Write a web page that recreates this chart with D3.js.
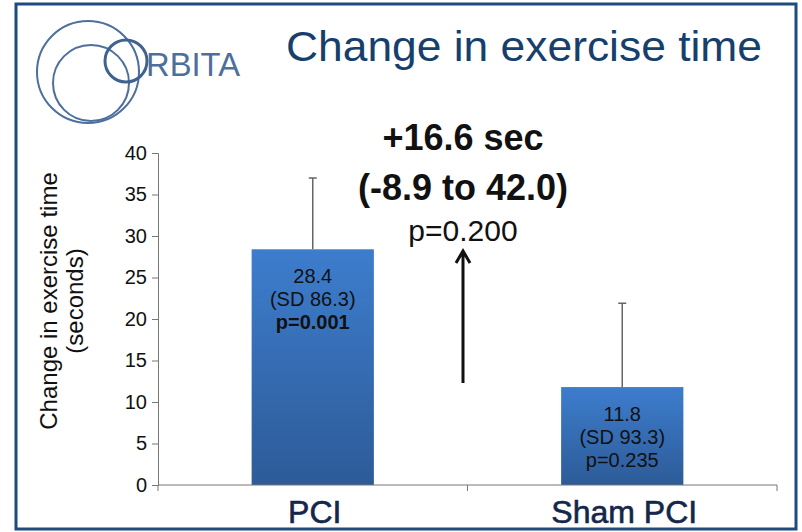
<!DOCTYPE html>
<html>
<head>
<meta charset="utf-8">
<script src="https://cdn.jsdelivr.net/npm/d3@7"></script>
<style>
  body { margin: 0; background: #fff; }
  svg { display: block; }
  text { font-family: Arial, "Liberation Sans", sans-serif; }
</style>
</head>
<body>
<svg id="chart" width="802" height="532"></svg>
<script>
// data
var categories = ["PCI", "Sham PCI"];
var means = [28.4, 11.8];
var errTops = [37.0, 21.9];
var sdLabels = ["(SD 86.3)", "(SD 93.3)"];
var pLabels = ["p=0.001", "p=0.235"];
var pBold = [true, false];
var yTicks = [0, 5, 10, 15, 20, 25, 30, 35, 40];
var diffLines = ["+16.6 sec", "(-8.9 to 42.0)", "p=0.200"];

var svg = d3.select("#chart");

// frame
svg.append("rect")
    .attr("x", 16).attr("y", 4)
    .attr("width", 780).attr("height", 525)
    .attr("fill", "none")
    .attr("stroke", "#1d4a80")
    .attr("stroke-width", 3);

// logo
var logo = svg.append("g").attr("fill", "none").attr("stroke", "#4d6f9c");
logo.append("circle").attr("cx", 88).attr("cy", 72).attr("r", 51).attr("stroke-width", 2);
logo.append("circle").attr("cx", 91).attr("cy", 83).attr("r", 38).attr("stroke-width", 2);
logo.append("circle").attr("cx", 126).attr("cy", 61).attr("r", 21).attr("stroke-width", 3).attr("stroke", "#3f6290");
svg.append("text")
    .attr("x", 146).attr("y", 76)
    .attr("font-size", 34)
    .attr("fill", "#4d6f9c")
    .attr("textLength", 94)
    .attr("lengthAdjust", "spacingAndGlyphs")
    .text("RBITA");

// title
svg.append("text")
    .attr("x", 286).attr("y", 61)
    .attr("font-size", 42)
    .attr("fill", "#173f6d")
    .attr("textLength", 476)
    .attr("lengthAdjust", "spacingAndGlyphs")
    .text("Change in exercise time");

var x = d3.scaleBand().domain(categories).range([158, 777]).padding(0);
var y = d3.scaleLinear().domain([0, 40]).range([485, 153]);
var barW = x.bandwidth() * 0.395;

var defs = svg.append("defs");
var grad = defs.append("linearGradient").attr("id", "barGrad")
    .attr("x1", 0).attr("y1", 0).attr("x2", 0).attr("y2", 1);
grad.append("stop").attr("offset", "0%").attr("stop-color", "#3d7dcd");
grad.append("stop").attr("offset", "100%").attr("stop-color", "#2d5b98");

// y axis
svg.append("g")
    .attr("transform", "translate(158,0)")
    .call(d3.axisLeft(y).tickValues(yTicks).tickSize(6).tickPadding(5))
    .call(function(g) {
      g.selectAll("path,line").attr("stroke", "#777");
      g.selectAll("text").attr("font-size", 20).attr("fill", "#111")
        .attr("font-family", "Arial, 'Liberation Sans', sans-serif");
    });

// y axis title
var yt = svg.append("text")
    .attr("transform", "translate(57,301) rotate(-90)")
    .attr("text-anchor", "middle")
    .attr("font-size", 24)
    .attr("fill", "#111");
yt.append("tspan").attr("x", 0).attr("dy", 0).text("Change in exercise time");
yt.append("tspan").attr("x", 0).attr("dy", 26).text("(seconds)");

// error bars (upper only)
svg.selectAll(".err")
    .data(categories)
    .enter().append("path")
    .attr("class", "err")
    .attr("fill", "none")
    .attr("stroke", "#666")
    .attr("stroke-width", 1.5)
    .attr("d", function(d, i) {
      var cx = x(d) + x.bandwidth() / 2;
      return "M" + cx + "," + y(means[i]) + "V" + y(errTops[i]) +
             "M" + (cx - 4) + "," + y(errTops[i]) + "H" + (cx + 4);
    });

// bars
svg.selectAll(".bar")
    .data(categories)
    .enter().append("rect")
    .attr("class", "bar")
    .attr("x", function(d) { return x(d) + (x.bandwidth() - barW) / 2; })
    .attr("y", function(d, i) { return y(means[i]); })
    .attr("width", barW)
    .attr("height", function(d, i) { return y(0) - y(means[i]); })
    .attr("fill", "url(#barGrad)");

// bar labels
categories.forEach(function(c, i) {
  var cx = x(c) + x.bandwidth() / 2;
  var t = svg.append("text")
      .attr("text-anchor", "middle")
      .attr("font-size", 20)
      .attr("fill", "#111");
  var top = y(means[i]) + 34;
  t.append("tspan").attr("x", cx).attr("y", top).text(means[i].toFixed(1));
  t.append("tspan").attr("x", cx).attr("y", top + 23).text(sdLabels[i]);
  t.append("tspan").attr("x", cx).attr("y", top + 46)
      .attr("font-weight", pBold[i] ? "bold" : "normal").text(pLabels[i]);
});

// x axis
svg.append("line")
    .attr("x1", 158).attr("x2", 777)
    .attr("y1", y(0)).attr("y2", y(0))
    .attr("stroke", "#777");
var bounds = categories.map(function(c) { return x(c); }).concat([x.range()[1]]);
svg.selectAll(".xtick")
    .data(bounds)
    .enter().append("line")
    .attr("x1", function(d) { return d; }).attr("x2", function(d) { return d; })
    .attr("y1", y(0)).attr("y2", y(0) + 6)
    .attr("stroke", "#777");
svg.selectAll(".xlab")
    .data(categories)
    .enter().append("text")
    .attr("x", function(d) { return x(d) + x.bandwidth() / 2 + 2; })
    .attr("y", 523)
    .attr("text-anchor", "middle")
    .attr("font-family", "Arial, 'Liberation Sans', sans-serif")
    .attr("font-size", 32)
    .attr("fill", "#14274a")
    .attr("stroke", "#14274a")
    .attr("stroke-width", 0.6)
    .text(function(d) { return d; });

// difference annotation
var ax = 463;
svg.append("text").attr("x", ax).attr("y", 150).attr("text-anchor", "middle")
    .attr("font-size", 36).attr("font-weight", "bold").attr("fill", "#111").text(diffLines[0]);
svg.append("text").attr("x", ax).attr("y", 200).attr("text-anchor", "middle")
    .attr("font-size", 36).attr("font-weight", "bold").attr("fill", "#111").text(diffLines[1]);
svg.append("text").attr("x", ax).attr("y", 241).attr("text-anchor", "middle")
    .attr("font-size", 30).attr("fill", "#111").text(diffLines[2]);

svg.append("path")
    .attr("d", "M" + ax + "," + y(12.3) + "V" + y(28.2) +
               "M" + (ax - 7) + "," + (y(28.2) + 12) + "L" + ax + "," + y(28.2) + "L" + (ax + 7) + "," + (y(28.2) + 12))
    .attr("fill", "none")
    .attr("stroke", "#111")
    .attr("stroke-width", 3);
</script>
</body>
</html>
